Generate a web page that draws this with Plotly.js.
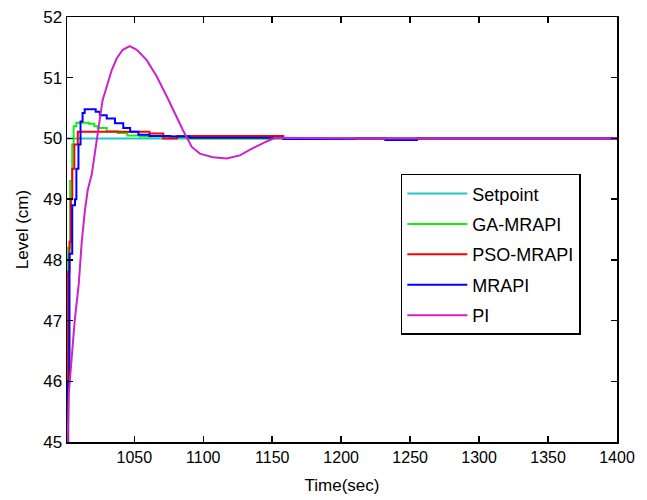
<!DOCTYPE html>
<html>
<head>
<meta charset="utf-8">
<script src="https://cdn.plot.ly/plotly-3.0.1.min.js"></script>
<style>html,body{margin:0;padding:0;background:#fff;}#chart{width:647px;height:500px;}</style>
</head>
<body>
<div id="chart"></div>
<script>
// Series names and colours
const seriesNames = ["Setpoint", "GA-MRAPI", "PSO-MRAPI", "MRAPI", "PI"];
const seriesColors = ["#22c8c8", "#11ee11", "#ff0000", "#0000ff", "#cc22cc"];

// Setpoint
const setpointT = [1001, 1400];
const setpointL = [50, 50];

// GA-MRAPI
const gaT = [1001, 1002, 1003.5, 1005, 1006, 1008, 1017, 1021, 1023.5, 1030, 1038, 1045, 1054, 1081, 1090, 1400];
const gaL = [45, 48.2, 49.3, 49.9, 50.2, 50.26, 50.24, 50.2, 50.17, 50.12, 50.09, 50.05, 50.03, 50.02, 50.0, 50.0];

// PSO-MRAPI
const psoT = [1001, 1002, 1003, 1004, 1005, 1006.5, 1009, 1061, 1071, 1081, 1158, 1400];
const psoL = [45, 47.8, 48.3, 49.0, 49.5, 49.9, 50.11, 50.08, 50.0, 50.04, 50.0, 50.0];

// MRAPI
const mrapiT = [1001, 1002, 1003, 1005, 1007, 1008, 1009.5, 1011, 1012.5, 1014, 1020, 1022, 1025, 1030, 1036, 1042, 1047, 1053, 1061, 1076, 1090, 1158, 1210, 1232, 1255, 1400];
const mrapiL = [45, 46.0, 48.1, 48.9, 49.0, 49.5, 49.9, 50.28, 50.42, 50.48, 50.48, 50.44, 50.38, 50.33, 50.25, 50.17, 50.11, 50.06, 50.04, 50.03, 50.01, 49.99, 50.0, 49.975, 50.0, 50.0];

// PI
const piT = [1001, 1001.7, 1002.5, 1004.6, 1006.8, 1009.7, 1011.9, 1014.1, 1016.2, 1019.1, 1021, 1022.8, 1025, 1027, 1030, 1033.7, 1037.3, 1041.6, 1046.7, 1051.8, 1059, 1066.3, 1073.6, 1079.4, 1085.2, 1091.7, 1097.5, 1107, 1117, 1126.5, 1136, 1146, 1152, 1210, 1400];
const piL = [45, 45.0, 45.8, 46.4, 47.0, 47.6, 48.3, 48.8, 49.15, 49.4, 49.7, 49.97, 50.3, 50.63, 50.85, 51.13, 51.32, 51.46, 51.52, 51.46, 51.29, 51.02, 50.69, 50.41, 50.14, 49.86, 49.75, 49.69, 49.67, 49.72, 49.84, 49.95, 50.01, 50.0, 50.0];

// Axis ticks
const xTicks = [1050, 1100, 1150, 1200, 1250, 1300, 1350, 1400];
const yTicks = [45, 46, 47, 48, 49, 50, 51, 52];

const xs = [setpointT, gaT, psoT, mrapiT, piT];
const ys = [setpointL, gaL, psoL, mrapiL, piL];
const shapes = ["linear", "hv", "hv", "hv", "linear"];

const traces = seriesNames.map((n, i) => ({
  x: xs[i], y: ys[i], name: n, type: "scatter", mode: "lines",
  legendgroup: "g" + i,
  line: {color: seriesColors[i], width: 2, shape: shapes[i]}
}));

const font = {family: "Liberation Sans, Arial, sans-serif", size: 16, color: "#000"};

const layout = {
  width: 647, height: 500,
  margin: {l: 67, r: 30, t: 17, b: 58},
  paper_bgcolor: "#fff", plot_bgcolor: "#fff",
  font: font,
  showlegend: true,
  legend: {
    x: 0.607, y: 0.631, xanchor: "left", yanchor: "top",
    bgcolor: "#fff", bordercolor: "#000", borderwidth: 1.5,
    font: {family: font.family, size: 18, color: "#000"},
    traceorder: "grouped", tracegroupgap: 4, itemwidth: 60
  },
  xaxis: {
    range: [1001.2, 1400], tickvals: xTicks, ticktext: xTicks.map(String),
    showline: true, linecolor: "#000", linewidth: 1.5, mirror: "ticks",
    ticks: "inside", ticklen: 6, tickwidth: 1.5, tickcolor: "#000",
    showgrid: false, zeroline: false, tickfont: {size: 16},
    title: {text: "Time(sec)", font: {size: 17}, standoff: 14},
    automargin: false
  },
  yaxis: {
    range: [45, 52], tickvals: yTicks, ticktext: yTicks.map(String),
    showline: true, linecolor: "#000", linewidth: 1.5, mirror: "ticks",
    ticks: "inside", ticklen: 6, tickwidth: 1.5, tickcolor: "#000",
    showgrid: false, zeroline: false, tickfont: {size: 17},
    title: {text: "Level (cm)", font: {size: 17}, standoff: 10},
    automargin: false
  }
};

Plotly.newPlot("chart", traces, layout, {displayModeBar: false, staticPlot: true});
</script>
</body>
</html>
